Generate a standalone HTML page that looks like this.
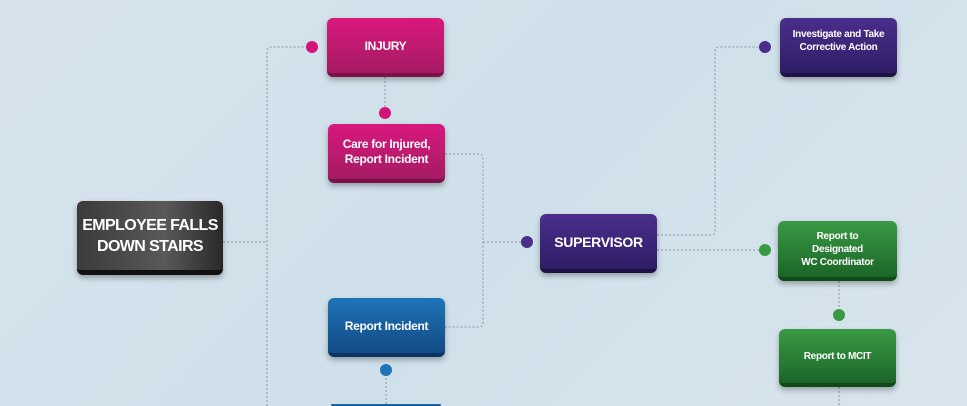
<!DOCTYPE html>
<html><head><meta charset="utf-8"><style>
html,body{margin:0;padding:0;overflow:hidden;width:967px;height:406px}
body{position:relative;background:linear-gradient(135deg,#d6e3ec 0%,#cfe0ea 50%,#d8e4ec 100%);font-family:"Liberation Sans",sans-serif}
.b{position:absolute;border-radius:6px;color:#fff;font-weight:bold;display:flex;align-items:center;justify-content:center;text-align:center;box-shadow:0 3px 6px rgba(0,0,0,.3);box-sizing:border-box;white-space:nowrap;letter-spacing:-0.3px}
.pk{background:linear-gradient(#d9187e,#a51b63);border-bottom:4px solid #7e1049}
.bl{background:linear-gradient(#1f74b8,#114b86);border-bottom:4px solid #0b3463}
.pu{background:linear-gradient(#4b2e8c,#2f1d66);border-bottom:4px solid #1e1245}
.gr{background:linear-gradient(#3a9a44,#1b6628);border-bottom:4px solid #0f4a19}
.bk{background:linear-gradient(90deg,#3c3a3a,#5a5858 60%,#2a2828);border-bottom:5px solid #111}
.d{position:absolute;width:12px;height:12px;border-radius:50%}
</style></head><body>
<svg width="967" height="406" style="position:absolute;left:0;top:0">
<g fill="none" stroke="#8a94a0" stroke-width="1" stroke-dasharray="2,2">
<path d="M223 242H267M267 406V51Q267 47 271 47H312"/>
<path d="M385 77V113M386 370V406"/>
<path d="M445 154H479Q483 154 483 158V323Q483 327 479 327H445M483 242H527"/>
<path d="M657 235H711Q715 235 715 231V51Q715 47 719 47H765"/>
<path d="M657 250H765M839 281V315M839 387V406"/>
</g></svg>
<div class="b bk" style="left:77px;top:201px;width:146px;height:74px;font-size:16px;line-height:21px;letter-spacing:-0.6px">EMPLOYEE FALLS<br>DOWN STAIRS</div>
<div class="b pk" style="left:327px;top:18px;width:117px;height:59px;font-size:12px">INJURY</div>
<div class="b pk" style="left:328px;top:124px;width:117px;height:59px;font-size:12px;line-height:15px">Care for Injured,<br>Report Incident</div>
<div class="b bl" style="left:328px;top:298px;width:117px;height:59px;font-size:12px">Report Incident</div>
<div class="b bl" style="left:331px;top:404px;width:110px;height:2px;border-bottom:none;box-shadow:none"></div>
<div class="b pu" style="left:540px;top:214px;width:117px;height:59px;font-size:14px">SUPERVISOR</div>
<div class="b pu" style="left:780px;top:18px;width:117px;height:59px;font-size:10px;line-height:13px;padding-bottom:10px">Investigate and Take<br>Corrective Action</div>
<div class="b gr" style="left:778px;top:221px;width:119px;height:60px;font-size:10px;line-height:13px">Report to<br>Designated<br>WC Coordinator</div>
<div class="b gr" style="left:779px;top:329px;width:117px;height:58px;font-size:10px">Report to MCIT</div>
<div class="d" style="left:306px;top:41px;background:#d4147a"></div>
<div class="d" style="left:379px;top:107px;background:#d4147a"></div>
<div class="d" style="left:380px;top:364px;background:#1f74b8"></div>
<div class="d" style="left:521px;top:236px;background:#4b2e8c"></div>
<div class="d" style="left:759px;top:41px;background:#4b2e8c"></div>
<div class="d" style="left:759px;top:244px;background:#3a9a44"></div>
<div class="d" style="left:833px;top:309px;background:#3a9a44"></div>
</body></html>
